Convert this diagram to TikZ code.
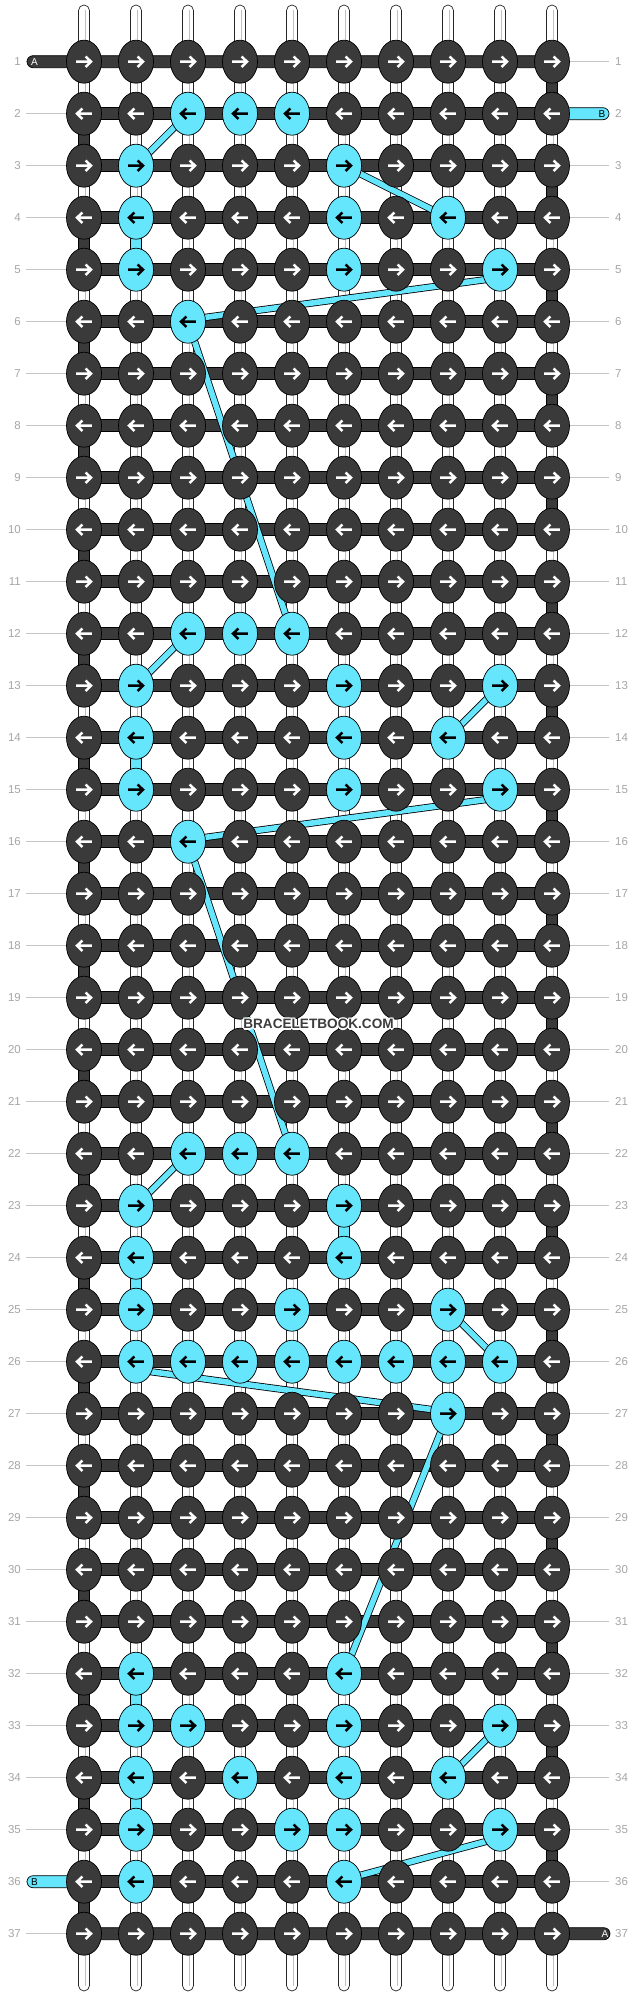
\documentclass[tikz,border=0pt]{standalone}
\usepackage{fontspec}
\setmainfont{Liberation Sans}
\usetikzlibrary{shapes.geometric}
\definecolor{knotdark}{HTML}{3A3A3A}
\definecolor{knotcyan}{HTML}{66E6FD}
\definecolor{lblgray}{HTML}{A6A6A6}
\definecolor{lblline}{HTML}{C4C4C4}
\definecolor{wmgray}{HTML}{3C3C3C}
\pgfdeclarelayer{under}
\pgfsetlayers{under,main}
\tikzset{
 knot/.style={ellipse, minimum width=35pt, minimum height=43pt, inner sep=0pt, draw=black, line width=0.7pt, fill=#1},
 arrowline/.style={line width=2.5pt, line cap=butt, line join=miter},
 band/.style={fill=knotdark, draw=black, line width=0.7pt},
 warp/.style={fill=white, draw=black!85, line width=0.7pt, rounded corners=5.5pt},
 warpinner/.style={draw=black!25, line width=0.6pt},
 turnseg/.style={fill=knotdark, draw=black, line width=0.7pt},
 cyanseg/.style={fill=knotcyan, draw=black, line width=0.7pt},
 carry/.style={draw=black, line width=0.8pt, double=knotcyan, double distance=5.6pt, line cap=butt},
 rowlbl/.style={text=lblgray, font=\fontsize{11.5}{12}\selectfont, inner sep=0pt},
 lblstroke/.style={draw=lblline, line width=0.8pt},
 endlbl/.style={font=\fontsize{10}{10}\selectfont, inner sep=0pt},
 wmtext/.style={font=\bfseries\fontsize{13.6}{15}\selectfont, inner sep=0pt},
}
\begin{document}
\foreach \p in {2-3,2-4,2-5,3-2,3-6,4-2,4-6,4-8,5-2,5-6,5-9,6-3,
 12-3,12-4,12-5,13-2,13-6,13-9,14-2,14-6,14-8,15-2,15-6,15-9,16-3,
 22-3,22-4,22-5,23-2,23-6,24-2,24-6,25-2,25-5,25-8,
 26-2,26-3,26-4,26-5,26-6,26-7,26-8,26-9,27-8,
 32-2,32-6,33-2,33-3,33-6,33-9,34-2,34-4,34-6,34-8,35-2,35-5,35-6,35-9,36-2,36-6}{%
 \expandafter\gdef\csname kcy\p\endcsname{1}}%
\begin{tikzpicture}[x=1pt,y=-1pt]
\useasboundingbox (0,0) rectangle (636,1996);
% knots and arrows
\foreach \rr in {1,...,37}{
 \foreach \cc in {1,...,10}{
  \pgfmathsetmacro\x{84+52*(\cc-1)}
  \pgfmathsetmacro\y{61.7+52*(\rr-1)}
  \ifcsname kcy\rr-\cc\endcsname \def\kfill{knotcyan}\def\acol{black}\else\def\kfill{knotdark}\def\acol{white}\fi
  \node[knot=\kfill] (k-\rr-\cc) at (\x,\y) {};
  \ifodd\rr\relax
   \draw[arrowline, draw=\acol] (\x-7.8,\y) -- (\x+6.5,\y) (\x+1.6,\y-5.2) -- (\x+7,\y) -- (\x+1.6,\y+5.2);
  \else
   \draw[arrowline, draw=\acol] (\x+7.8,\y) -- (\x-6.5,\y) (\x-1.6,\y-5.2) -- (\x-7,\y) -- (\x-1.6,\y+5.2);
  \fi
 }
}
% row labels
\foreach \rr in {1,...,37}{
 \pgfmathsetmacro\y{61.7+52*(\rr-1)}
 \node[rowlbl, anchor=east] (ll-\rr) at (21,\y) {\rr};
 \node[rowlbl, anchor=west] (rl-\rr) at (615,\y) {\rr};
}
% end letters
\node[endlbl, text=white] (endA1) at (34.5,61.7) {A};
\node[endlbl, text=black] (endB2) at (602,113.7) {B};
\node[endlbl, text=black] (endB36) at (34.5,1881.7) {B};
\node[endlbl, text=white] (endA37) at (605,1933.7) {A};
% watermark with white halo
\foreach \dx/\dy [count=\i] in {-1.4/0,1.4/0,0/-1.4,0/1.4,-1/-1,1/-1,-1/1,1/1}{
 \node[wmtext, text=white] (wmh-\i) at (318.5+\dx,1024+\dy) {BRACELETBOOK.COM};
}
\node[wmtext, text=wmgray] (wm) at (318.5,1024) {BRACELETBOOK.COM};

\begin{pgfonlayer}{under}
\fill[white] (0,0) rectangle (636,1996);
% label lines
\foreach \rr in {1,...,37}{
 \pgfmathsetmacro\y{61.7+52*(\rr-1)}
 \draw[lblstroke] (26,\y) -- (80,\y);
 \draw[lblstroke] (556,\y) -- (609,\y);
}
% warp strings
\foreach \cc in {1,...,10}{
 \pgfmathsetmacro\x{84+52*(\cc-1)}
 \draw[warp] (\x-5.5,5) rectangle (\x+5.5,1991);
 \draw[warpinner] (\x+1,10) -- (\x+1,1986);
}
% turning segments
\foreach \rr in {1,3,...,35}{
 \pgfmathsetmacro\ya{61.7+52*(\rr-1)}
 \pgfmathsetmacro\yb{61.7+52*\rr}
 \draw[turnseg] (552-5.5,\ya) rectangle (552+5.5,\yb);
}
\foreach \rr in {2,4,...,36}{
 \pgfmathsetmacro\ya{61.7+52*(\rr-1)}
 \pgfmathsetmacro\yb{61.7+52*\rr}
 \draw[turnseg] (84-5.5,\ya) rectangle (84+5.5,\yb);
}
% cyan vertical segments
\foreach \rr/\cc in {4/2,14/2,23/6,24/2,32/2,34/2}{
 \pgfmathsetmacro\x{84+52*(\cc-1)}
 \pgfmathsetmacro\ya{61.7+52*(\rr-1)}
 \pgfmathsetmacro\yb{61.7+52*\rr}
 \draw[cyanseg] (\x-5.5,\ya) rectangle (\x+5.5,\yb);
}
% bands
\foreach \rr in {2,...,36}{
 \pgfmathsetmacro\y{61.7+52*(\rr-1)}
 \draw[band] (84,\y-6) rectangle (552,\y+6);
}
\draw[band, rounded corners=6pt] (27,61.7-6) rectangle (552,61.7+6);
\draw[band, rounded corners=6pt] (84,1933.7-6) rectangle (610,1933.7+6);
\draw[cyanseg, rounded corners=6pt] (540,113.7-6) rectangle (609,113.7+6);
\draw[cyanseg, rounded corners=6pt] (27,1881.7-6) rectangle (96,1881.7+6);
% carried cyan string
\draw[carry] (k-2-3.center) -- (k-3-2.center);
\draw[carry] (k-3-6.center) -- (k-4-8.center);
\draw[carry] ([yshift=-8pt]k-5-9.center) -- ([yshift=2pt]k-6-3.center);
\draw[carry] (k-6-3.center) -- (k-12-5.center);
\draw[carry] (k-12-3.center) -- (k-13-2.center);
\draw[carry] (k-13-9.center) -- (k-14-8.center);
\draw[carry] ([yshift=-8pt]k-15-9.center) -- ([yshift=2pt]k-16-3.center);
\draw[carry] (k-16-3.center) -- (k-22-5.center);
\draw[carry] (k-22-3.center) -- (k-23-2.center);
\draw[carry] (k-25-8.center) -- (k-26-9.center);
\draw[carry] ([yshift=-8pt]k-26-2.center) -- ([yshift=2pt]k-27-8.center);
\draw[carry] (k-27-8.center) -- (k-32-6.center);
\draw[carry] (k-33-9.center) -- (k-34-8.center);
\draw[carry] ([yshift=-8pt]k-35-9.center) -- ([yshift=2pt]k-36-6.center);
\end{pgfonlayer}
\end{tikzpicture}
\end{document}
